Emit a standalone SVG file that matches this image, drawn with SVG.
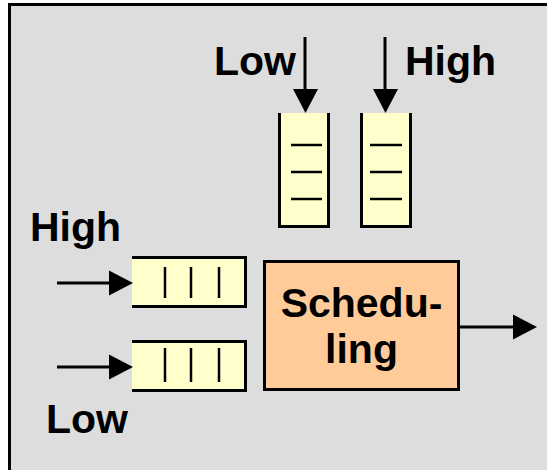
<svg xmlns="http://www.w3.org/2000/svg" width="547" height="470" viewBox="0 0 547 470">
<defs>
<style>
.lbl{font-family:"Liberation Sans",Arial,sans-serif;font-weight:bold;font-size:41px;fill:#000}
.q{fill:#FFFFCC;stroke:none}
.qb{fill:none;stroke:#000;stroke-width:3}
.tick{stroke:#000;stroke-width:2.5}
.ar{stroke:#000;stroke-width:3;fill:none}
.hd{fill:#000}
</style>
</defs>
<rect x="0" y="0" width="547" height="470" fill="#fff"/>
<rect x="9.5" y="4.5" width="545" height="475" fill="#DDDDDD" stroke="#000" stroke-width="3"/>
<g id="label-low-top"><text class="lbl" x="214" y="75">Low</text></g>
<g id="label-high-top"><text class="lbl" x="405" y="75">High</text></g>
<g id="label-high-left"><text class="lbl" x="30" y="241">High</text></g>
<g id="label-low-left"><text class="lbl" x="46" y="433">Low</text></g>
<g id="queue-v1">
<rect class="q" x="279" y="113" width="50" height="114"/>
<path class="qb" d="M279.5,113 V226.5 H328.5 V113"/>
<line class="tick" x1="291" y1="145" x2="322" y2="145"/>
<line class="tick" x1="291" y1="172" x2="322" y2="172"/>
<line class="tick" x1="291" y1="199" x2="322" y2="199"/>
</g>
<g id="queue-v2">
<rect class="q" x="361" y="113" width="50" height="114"/>
<path class="qb" d="M361.5,113 V226.5 H410.5 V113"/>
<line class="tick" x1="370" y1="145" x2="402" y2="145"/>
<line class="tick" x1="370" y1="172" x2="402" y2="172"/>
<line class="tick" x1="370" y1="199" x2="402" y2="199"/>
</g>
<g id="queue-h1">
<rect class="q" x="132" y="257" width="114" height="50"/>
<path class="qb" d="M132,257.5 H245.5 V306.5 H132"/>
<line class="tick" x1="165" y1="267" x2="165" y2="298"/>
<line class="tick" x1="191" y1="267" x2="191" y2="298"/>
<line class="tick" x1="219" y1="267" x2="219" y2="298"/>
</g>
<g id="queue-h2">
<rect class="q" x="132" y="341" width="114" height="50"/>
<path class="qb" d="M132,341.5 H245.5 V390.5 H132"/>
<line class="tick" x1="165" y1="348" x2="165" y2="382"/>
<line class="tick" x1="191" y1="348" x2="191" y2="382"/>
<line class="tick" x1="219" y1="348" x2="219" y2="382"/>
</g>
<g id="scheduling">
<rect x="264.5" y="261.5" width="194" height="128" fill="#FFCC99" stroke="#000" stroke-width="3"/>
<text class="lbl" x="361.5" y="317" text-anchor="middle" font-size="42">Schedu-</text>
<text class="lbl" x="361.5" y="363" text-anchor="middle" font-size="42">ling</text>
</g>
<g id="connectors">
<line class="ar" x1="305" y1="37" x2="305" y2="92"/>
<polygon class="hd" points="293,89 318,89 305.5,113"/>
<line class="ar" x1="385" y1="37" x2="385" y2="92"/>
<polygon class="hd" points="373,89 398,89 385.5,113"/>
<line class="ar" x1="57" y1="283" x2="112" y2="283"/>
<polygon class="hd" points="109,270.5 109,295.5 133,283"/>
<line class="ar" x1="57" y1="367" x2="112" y2="367"/>
<polygon class="hd" points="109,354.5 109,379.5 133,367"/>
<line class="ar" x1="459" y1="327" x2="516" y2="327"/>
<polygon class="hd" points="513,314.5 513,339.5 537,327"/>
</g>
</svg>
